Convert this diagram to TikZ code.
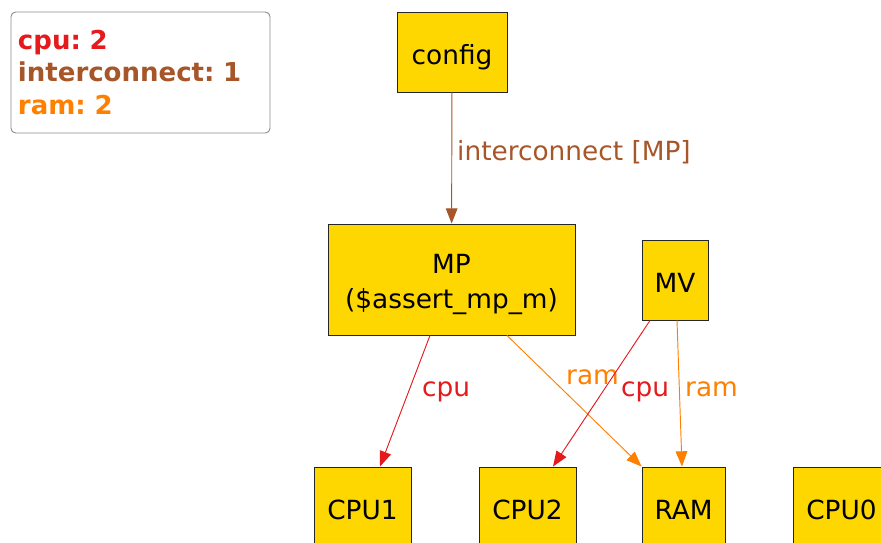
\documentclass[tikz,border=0pt]{standalone}
\usepackage{fontspec}
\setmainfont{DejaVu Sans}
\usetikzlibrary{arrows.meta,calc}
\definecolor{cpucol}{HTML}{E41A1C}
\definecolor{intcol}{HTML}{A65628}
\definecolor{ramcol}{HTML}{FF7F00}
\definecolor{boxfill}{HTML}{FFD700}

\begin{document}
\frenchspacing
\begin{tikzpicture}[x=0.03cm,y=-0.03cm,
	font=\fontsize{22.5}{28.1}\selectfont,
	unit/.style={draw=black!85,fill=boxfill,line width=0.8pt,inner sep=0pt,
		align=center,minimum height=2.4cm,text height=0.75cm,text depth=0pt},
	link/.style={line width=0.8pt,-{Triangle[length=13pt,width=10pt]}},
	lbl/.style={anchor=base west,inner sep=0pt}]
	\clip (0,0) rectangle (881,543);
	
	% legend
	\node[draw=black!45,line width=0.8pt,rounded corners=4pt,inner xsep=0.21cm,
	text width=7.35cm,minimum height=3.63cm,align=left,font=\fontsize{22.2}{28.1}\selectfont\bfseries]
	(legend) at (140.5,72.5) {\textcolor{cpucol}{cpu: 2}\\
		\textcolor{intcol}{interconnect: 1}\\
		\textcolor{ramcol}{ram: 2}};
	
	% boxes
	\node[unit,minimum width=3.3cm] (config) at (452,52) {config};
	\node[unit,minimum width=7.41cm,minimum height=3.33cm,text height=1.71cm] (mp) at (451.5,279.5)
	{MP\\[1.5pt](\$assert\_mp\_m)};
	\node[unit,minimum width=1.98cm] (mv) at (675,280) {MV};
	\node[unit,minimum width=2.91cm] (cpu1) at (362.5,507) {CPU1};
	\node[unit,minimum width=2.91cm] (cpu2) at (527.5,507) {CPU2};
	\node[unit,minimum width=2.49cm] (ram) at (683.5,507) {RAM};
	\node[unit,minimum width=2.91cm] (cpu0) at (841.5,507) {CPU0};
	
	% links
	\draw[link,intcol] (config) -- (mp);
	\node[lbl,text=intcol] (lblint) at (457,160.5) {interconnect [MP]};
	
	\draw[link,cpucol] ($(mp.south)+(-21.5,0)$) -- ($(cpu1.north)+(17.5,0)$);
	\node[lbl,text=cpucol] (lblcpua) at (422,396) {cpu};
	
	\draw[link,ramcol] ($(mp.south)+(55.5,0)$) -- (ram.north west);
	\node[lbl,text=ramcol] (lblrama) at (566,384) {ram};
	
	\draw[link,cpucol] ($(mv.south)+(-25,0)$) -- ($(cpu2.north)+(25.5,0)$);
	\node[lbl,text=cpucol] (lblcpub) at (621,396) {cpu};
	
	\draw[link,ramcol] ($(mv.south)+(2,0)$) -- ($(ram.north)+(-1.5,0)$);
	\node[lbl,text=ramcol] (lblramb) at (685,396) {ram};
\end{tikzpicture}
\end{document}
